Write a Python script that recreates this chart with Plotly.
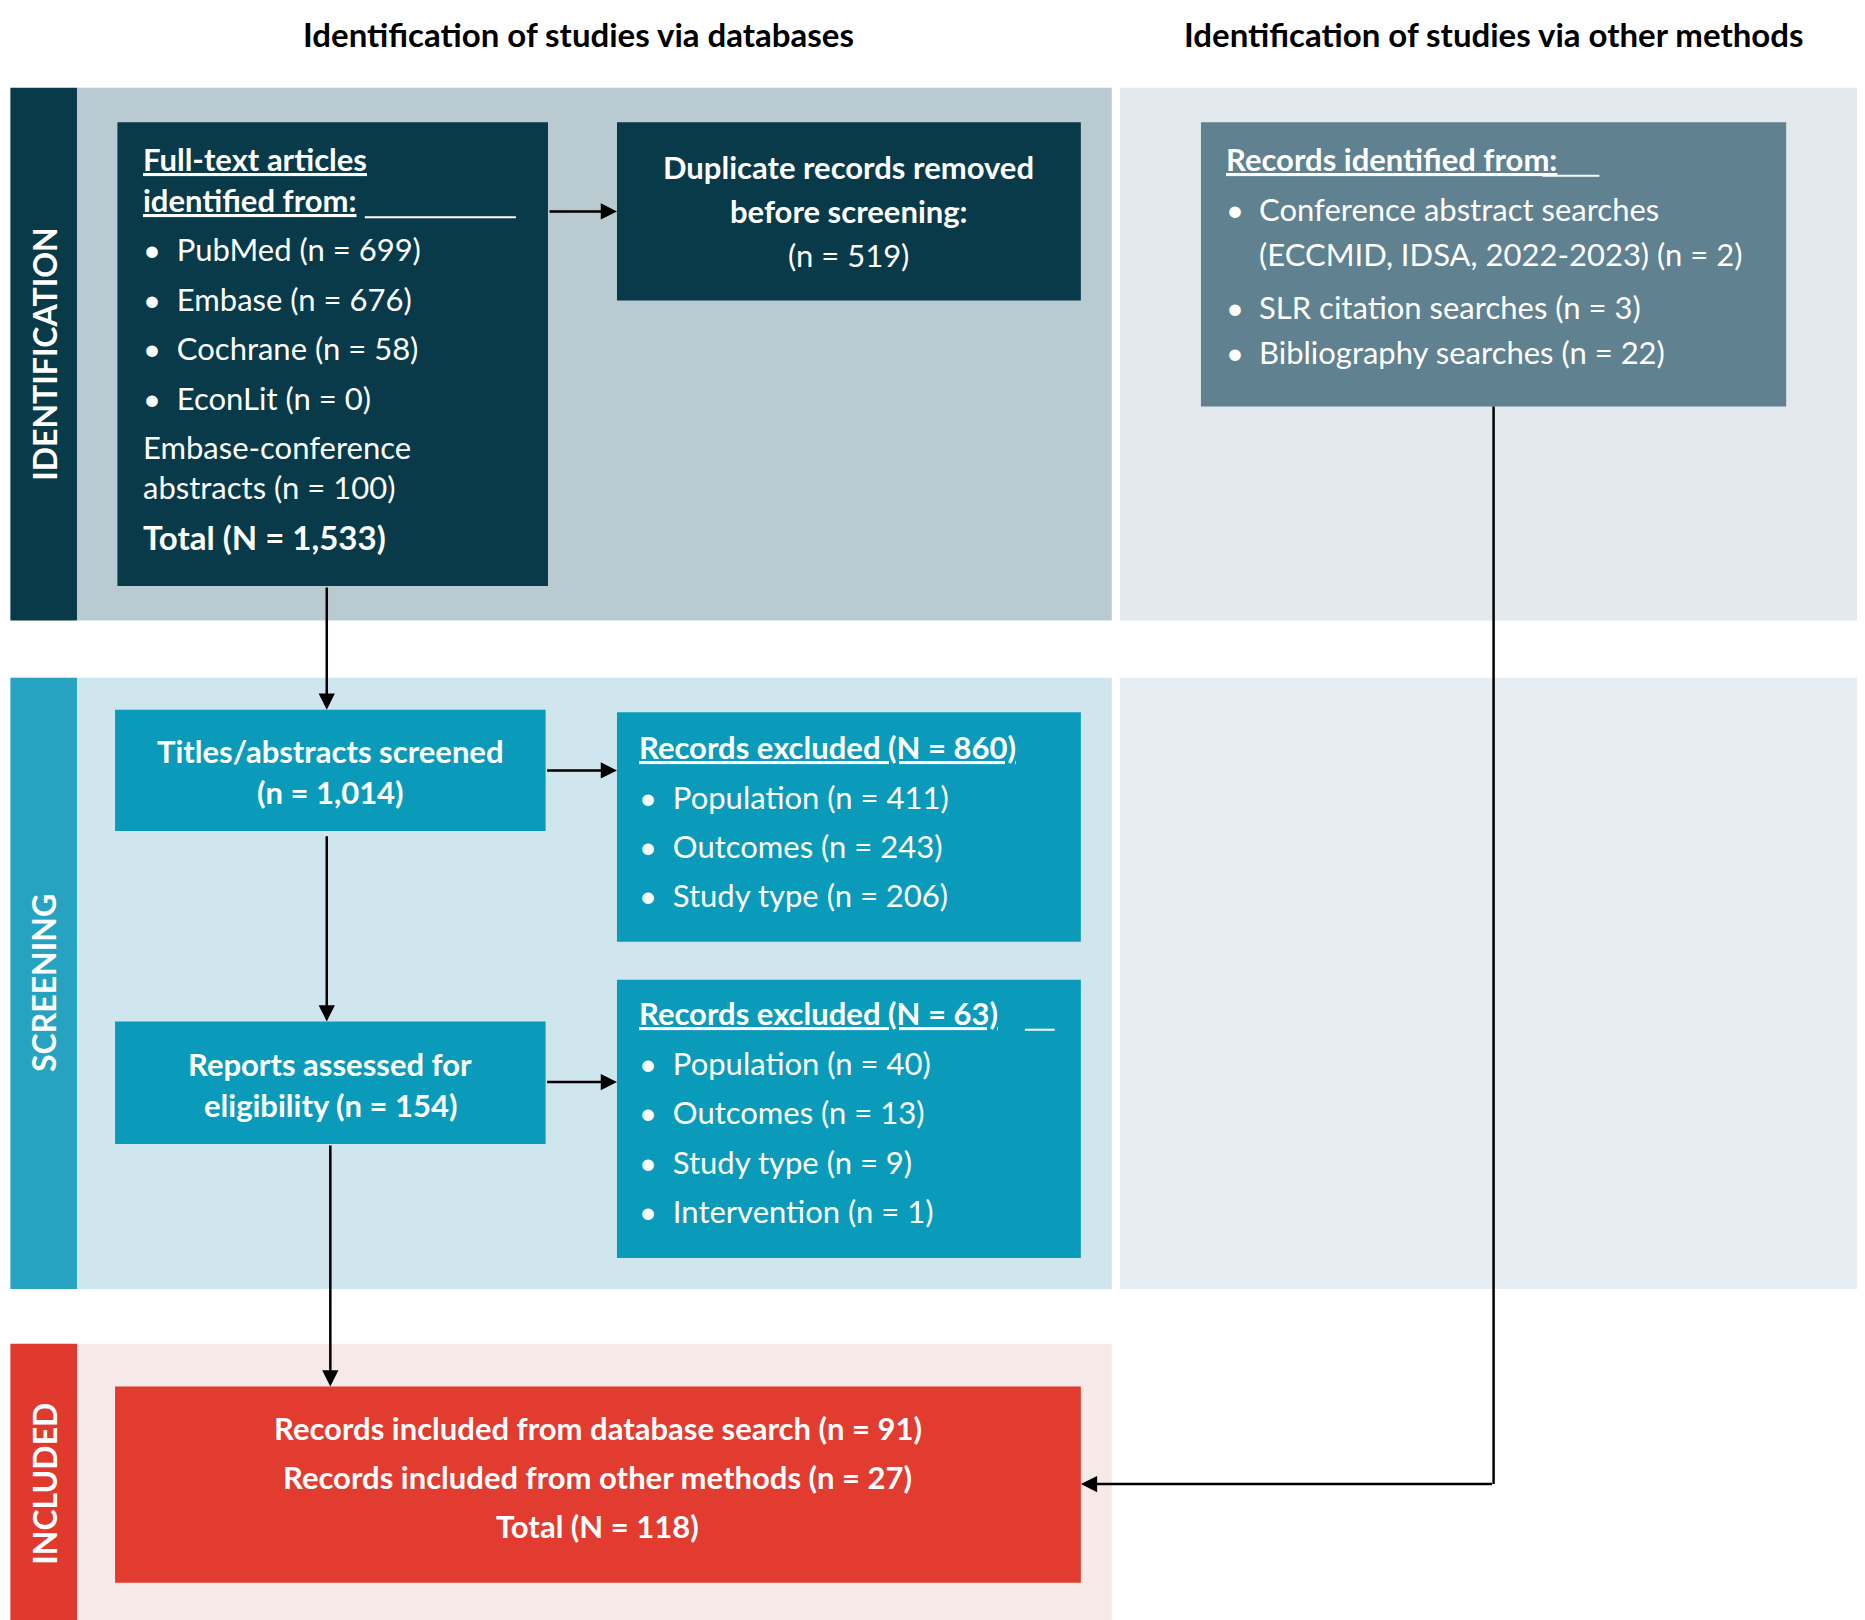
import plotly.graph_objects as go

# Text content of the PRISMA flow diagram
headers = ["Identification of studies via databases", "Identification of studies via other methods"]
stages = ["IDENTIFICATION", "SCREENING", "INCLUDED"]

db_title = ["Full-text articles", "identified from:"]
db_sources = ["PubMed (n = 699)", "Embase (n = 676)", "Cochrane (n = 58)", "EconLit (n = 0)"]
db_extra = ["Embase-conference", "abstracts (n = 100)"]
db_total = "Total (N = 1,533)"

dup_lines = ["Duplicate records removed", "before screening:", "(n = 519)"]

other_title = "Records identified from:"
other_lines = [("•", "Conference abstract searches"), ("", "(ECCMID, IDSA, 2022-2023) (n = 2)"),
               ("•", "SLR citation searches (n = 3)"), ("•", "Bibliography searches (n = 22)")]

screened = ["Titles/abstracts screened", "(n = 1,014)"]
excl1_title = "Records excluded (N = 860)"
excl1 = ["Population (n = 411)", "Outcomes (n = 243)", "Study type (n = 206)"]
assessed = ["Reports assessed for", "eligibility (n = 154)"]
excl2_title = "Records excluded (N = 63)"
excl2 = ["Population (n = 40)", "Outcomes (n = 13)", "Study type (n = 9)", "Intervention (n = 1)"]
included = ["Records included from database search (n = 91)",
            "Records included from other methods (n = 27)", "Total (N = 118)"]

W, H = 1568, 1362
FONT = "Lato"
FS = 31

fig = go.Figure()
shapes = []
ann = []


def rect(x0, y0, x1, y1, color):
    shapes.append(dict(type="rect", x0=x0, y0=y0, x1=x1, y1=y1, xref="x", yref="y",
                       fillcolor=color, line=dict(width=0), layer="below"))


def text(x, y, s, anchor="left", size=FS, color="white", bold=False, angle=0):
    if bold:
        s = "<b>" + s + "</b>"
    ann.append(dict(x=x, y=y, xref="x", yref="y", text=s, showarrow=False, xanchor=anchor,
                    yanchor="middle", textangle=angle, font=dict(family=FONT, size=size, color=color)))


def arrow(x0, y0, x1, y1):
    ann.append(dict(x=x1, y=y1, ax=x0, ay=y0, xref="x", yref="y", axref="x", ayref="y", text="",
                    showarrow=True, arrowhead=2, arrowsize=1.3, arrowwidth=2.5, arrowcolor="black"))


# bands
rect(2, 67, 58, 515, "#083a4a"); rect(58, 67, 928, 515, "#b9cbd0"); rect(935, 67, 1566, 515, "#e2e8ec")
rect(2, 563, 58, 1077, "#25a3c0"); rect(58, 563, 928, 1077, "#cfe6ee"); rect(935, 563, 1566, 1077, "#e6eef4")
rect(2, 1123, 58, 1360, "#e03a2f"); rect(58, 1123, 928, 1360, "#f6e9e7")
# boxes
rect(92, 96, 454, 486, "#083a4a"); rect(512, 96, 902, 246, "#083a4a"); rect(1003, 96, 1495, 335, "#5f8190")
rect(90, 590, 452, 692, "#0b9bba"); rect(512, 592, 902, 785, "#0b9bba")
rect(90, 852, 452, 955, "#0b9bba"); rect(512, 817, 902, 1051, "#0b9bba")
rect(90, 1159, 902, 1324, "#e23b2f")

text(480, 22, headers[0], "center", 33, "black", True)
text(1249, 22, headers[1], "center", 33, "black", True)
for s, y in zip(stages, [291, 820, 1241]):
    text(30, y, s, "center", 32, "white", True, -90)

# database box
text(112, 127, "<u>" + db_title[0] + "</u>", bold=True)
text(112, 161, "<u>" + db_title[1] + "</u>", bold=True)
shapes.append(dict(type="line", x0=300, x1=427, y0=176, y1=176, xref="x", yref="y", line=dict(color="white", width=2)))
for i, s in enumerate(db_sources):
    text(112, 203 + 41.5 * i, "•  " + s)
text(112, 369, db_extra[0]); text(112, 403, db_extra[1])
text(112, 445, db_total, size=33, bold=True)

for i, s in enumerate(dup_lines):
    text(707, 134 + 37 * i, s, "center", bold=(i < 2))

text(1022, 127, "<u>" + other_title + "</u>", bold=True)
shapes.append(dict(type="line", x0=1290, x1=1338, y0=141, y1=141, xref="x", yref="y", line=dict(color="white", width=2)))
for i, (b, s) in enumerate(other_lines):
    if b:
        text(1022, 169 + 38 * i + (6 if i > 1 else 0), b)
    text(1050, 169 + 38 * i + (6 if i > 1 else 0), s)

for i, s in enumerate(screened):
    text(271, 625 + 34 * i, s, "center", bold=True)
text(529, 621, "<u>" + excl1_title + "</u>", bold=True)
for i, s in enumerate(excl1):
    text(529, 663 + 41.5 * i, "•  " + s)
for i, s in enumerate(assessed):
    text(271, 888 + 34 * i, s, "center", bold=True)
text(529, 845, "<u>" + excl2_title + "</u>", bold=True)
shapes.append(dict(type="line", x0=855, x1=880, y0=859, y1=859, xref="x", yref="y", line=dict(color="white", width=2)))
for i, s in enumerate(excl2):
    text(529, 887 + 41.5 * i, "•  " + s)
for i, s in enumerate(included):
    text(496, 1194 + 41 * i, s, "center", bold=True)

# arrows
arrow(268, 486, 268, 590)
arrow(454, 171, 512, 171)
arrow(452, 641, 512, 641)
arrow(268, 695, 268, 852)
arrow(452, 903, 512, 903)
arrow(271, 955, 271, 1159)
shapes.append(dict(type="line", x0=1249, x1=1249, y0=335, y1=1241, xref="x", yref="y", line=dict(color="black", width=2.5)))
arrow(1249, 1241, 902, 1241)

fig.update_layout(width=1865, height=1620, margin=dict(l=0, r=0, t=0, b=0),
                  plot_bgcolor="white", paper_bgcolor="white", shapes=shapes, annotations=ann,
                  xaxis=dict(range=[0, W], visible=False, fixedrange=True),
                  yaxis=dict(range=[H, 0], visible=False, fixedrange=True), showlegend=False)
fig.write_html("out.html")
